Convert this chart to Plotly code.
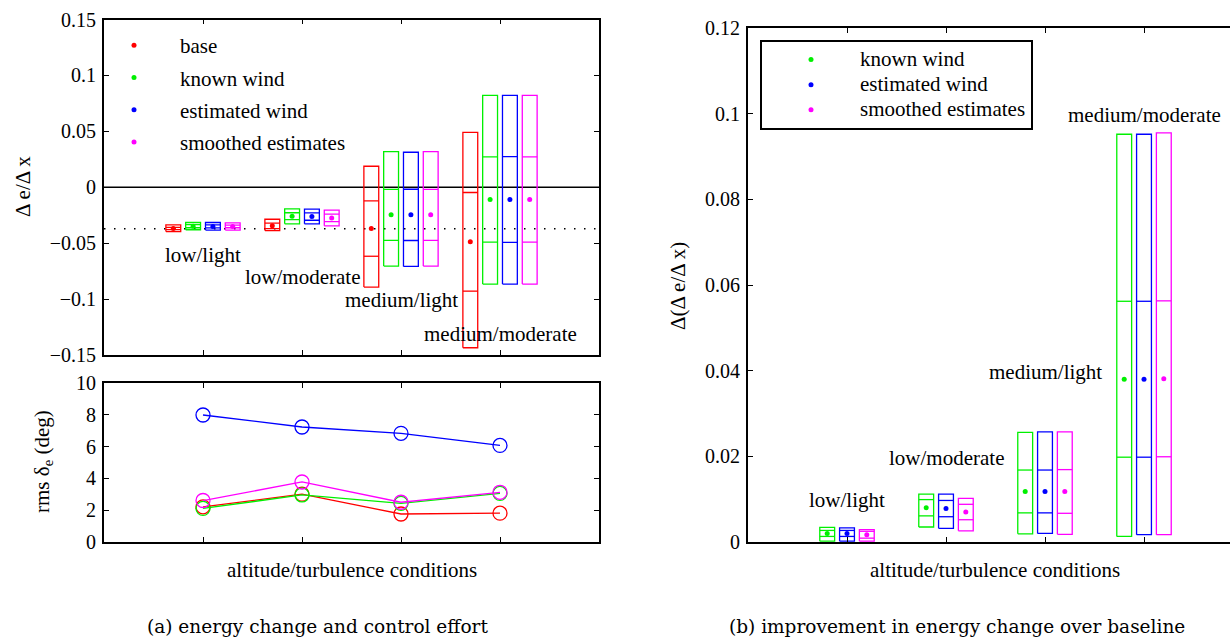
import plotly.graph_objects as go

# ---------------- data ----------------
cat_labels = ["low/light", "low/moderate", "medium/light", "medium/moderate"]
cat_pos = [1, 2, 3, 4]

# panel (a): Δe/Δx  (box = min..max, inner lines = mean ± std, dot = mean)
base_min = [-0.0396, -0.0387, -0.0893, -0.1435]
base_max = [-0.0336, -0.0286, 0.0188, 0.0491]
base_mean = [-0.0369, -0.0345, -0.0369, -0.0488]
base_std = [0.0010, 0.0025, 0.0248, 0.0441]

known_min = [-0.0380, -0.0327, -0.0705, -0.0866]
known_max = [-0.0315, -0.0193, 0.0318, 0.0821]
known_mean = [-0.0348, -0.0259, -0.0247, -0.0110]
known_std = [0.0014, 0.0031, 0.0228, 0.0381]

est_min = [-0.0383, -0.0327, -0.0708, -0.0866]
est_max = [-0.0315, -0.0196, 0.0313, 0.0821]
est_mean = [-0.0350, -0.0262, -0.0247, -0.0110]
est_std = [0.0014, 0.0033, 0.0229, 0.0383]

smooth_min = [-0.0383, -0.0345, -0.0705, -0.0866]
smooth_max = [-0.0318, -0.0205, 0.0318, 0.0821]
smooth_mean = [-0.0350, -0.0274, -0.0247, -0.0110]
smooth_std = [0.0012, 0.0033, 0.0228, 0.0381]

baseline_ref = -0.037

# panel (a) lower: rms elevator deflection (deg)
rms_base = [2.2, 3.0, 1.75, 1.8]
rms_known = [2.1, 2.95, 2.42, 3.05]
rms_est = [8.0, 7.24, 6.84, 6.08]
rms_smooth = [2.6, 3.77, 2.49, 3.12]

# panel (b): improvement Δ(Δe/Δx)
imp_known_min = [0.0002, 0.0035, 0.0019, 0.0013]
imp_known_max = [0.0034, 0.0112, 0.0256, 0.0952]
imp_known_mean = [0.0020, 0.0080, 0.0118, 0.0380]
imp_known_std = [0.0007, 0.0019, 0.0050, 0.0182]

imp_est_min = [0.0002, 0.0032, 0.0020, 0.0017]
imp_est_max = [0.0033, 0.0112, 0.0257, 0.0952]
imp_est_mean = [0.0020, 0.0078, 0.0118, 0.0380]
imp_est_std = [0.0007, 0.0019, 0.0050, 0.0182]

imp_smooth_min = [0.0002, 0.0026, 0.0018, 0.0017]
imp_smooth_max = [0.0029, 0.0102, 0.0257, 0.0955]
imp_smooth_mean = [0.0017, 0.0070, 0.0118, 0.0381]
imp_smooth_std = [0.0008, 0.0018, 0.0051, 0.0182]

a_names = ["base", "known wind", "estimated wind", "smoothed estimates"]
b_names = ["known wind", "estimated wind", "smoothed estimates"]
RED, GREEN, BLUE, MAGENTA = "#ff0000", "#00f000", "#0000ff", "#ff00ff"

FONT = "Liberation Serif, Times New Roman, serif"
W, H = 1230, 640

fig = go.Figure()


def add_boxes(name, label, color, offset, mins, maxs, means, stds, xa, ya, legend, width=0.15):
    xs, ys = [], []
    for c, lo, hi, m, s in zip(cat_pos, mins, maxs, means, stds):
        x0, x1 = c + offset - width / 2, c + offset + width / 2
        xs += [x0, x1, x1, x0, x0, None, x0, x1, None, x0, x1, None]
        ys += [lo, lo, hi, hi, lo, None, m + s, m + s, None, m - s, m - s, None]
    fig.add_trace(go.Scatter(x=xs, y=ys, mode="lines", line=dict(color=color, width=1.3),
                             xaxis=xa, yaxis=ya, showlegend=False, hoverinfo="skip",
                             legendgroup=legend + name))
    fig.add_trace(go.Scatter(x=[c + offset for c in cat_pos], y=means, mode="markers",
                             marker=dict(color=color, size=5), name=label,
                             xaxis=xa, yaxis=ya, legend=legend, legendgroup=legend + name))


a_sets = [
    (base_min, base_max, base_mean, base_std),
    (known_min, known_max, known_mean, known_std),
    (est_min, est_max, est_mean, est_std),
    (smooth_min, smooth_max, smooth_mean, smooth_std),
]
a_colors = [RED, GREEN, BLUE, MAGENTA]
a_offsets = [-0.3, -0.1, 0.1, 0.3]
for nm, col, off, d in zip(a_names, a_colors, a_offsets, a_sets):
    add_boxes(nm, nm, col, off, *d, "x", "y", "legend")

rms_sets = [rms_base, rms_known, rms_est, rms_smooth]
for nm, col, vals in zip(a_names, a_colors, rms_sets):
    fig.add_trace(go.Scatter(x=cat_pos, y=vals, mode="lines+markers",
                             line=dict(color=col, width=1.3),
                             marker=dict(symbol="circle-open", size=14, color=col, line=dict(width=1.3)),
                             xaxis="x2", yaxis="y2", showlegend=False, hoverinfo="skip"))

b_sets = [
    (imp_known_min, imp_known_max, imp_known_mean, imp_known_std),
    (imp_est_min, imp_est_max, imp_est_mean, imp_est_std),
    (imp_smooth_min, imp_smooth_max, imp_smooth_mean, imp_smooth_std),
]
b_colors = [GREEN, BLUE, MAGENTA]
b_offsets = [-0.2, 0.0, 0.2]
for nm, col, off, d in zip(b_names, b_colors, b_offsets, b_sets):
    add_boxes(nm, "<span style='font-size:21px'>" + nm + "</span>", col, off, *d, "x3", "y3", "legend2")

# ---------------- axes ----------------
axis_common = dict(showline=True, linecolor="black", linewidth=1.8, ticks="inside",
                   ticklen=5, tickwidth=1, tickcolor="black", showgrid=False, zeroline=False,
                   automargin=False, ticklabelstandoff=2,
                   tickfont=dict(family=FONT, size=20, color="black"))

xl_dom = [104 / W, 599 / W]
fig.update_layout(
    xaxis=dict(**axis_common, domain=xl_dom, range=[0, 5], tickvals=cat_pos, showticklabels=False,
               mirror="ticks", anchor="y"),
    yaxis=dict(**axis_common, domain=[1 - 355 / H, 1 - 19.5 / H], range=[-0.15, 0.15],
               tickvals=[-0.15, -0.1, -0.05, 0, 0.05, 0.1, 0.15], mirror="ticks", anchor="x"),
    xaxis2=dict(**axis_common, domain=xl_dom, range=[0, 5], tickvals=cat_pos, showticklabels=False,
                mirror="ticks", anchor="y2"),
    yaxis2=dict(**axis_common, domain=[1 - 541.7 / H, 1 - 383.3 / H], range=[0, 10],
                tickvals=[0, 2, 4, 6, 8, 10], mirror="ticks", anchor="x2"),
    xaxis3=dict(**axis_common, domain=[748 / W, 1.0], range=[0, (W - 748) / 99.0], tickvals=cat_pos,
                showticklabels=False, mirror="ticks", anchor="y3"),
    yaxis3=dict(**axis_common, domain=[1 - 542 / H, 1 - 28 / H], range=[0, 0.12],
                tickvals=[0, 0.02, 0.04, 0.06, 0.08, 0.1, 0.12], mirror=False, anchor="x3"),
)

# reference lines in panel (a)
fig.add_shape(type="line", xref="x domain", yref="y", x0=0, x1=1, y0=0, y1=0,
              line=dict(color="black", width=1.3), layer="below")
fig.add_shape(type="line", xref="x domain", yref="y", x0=0, x1=1, y0=baseline_ref, y1=baseline_ref,
              line=dict(color="black", width=1.5, dash="1.5px,8.5px"), layer="below")

# condition labels
a_label_y = [-0.061, -0.0806, -0.101, -0.1315]
b_label_y = [0.0099, 0.0197, 0.0398, 0.0997]
for c, lab, ya_, yb_ in zip(cat_pos, cat_labels, a_label_y, b_label_y):
    fig.add_annotation(x=c, y=ya_, xref="x", yref="y", text=lab, showarrow=False,
                       font=dict(family=FONT, size=21, color="black"))
    fig.add_annotation(x=c, y=yb_, xref="x3", yref="y3", text=lab, showarrow=False,
                       font=dict(family=FONT, size=21, color="black"))


# axis titles and captions
def ptext(x, y, text, size=21, angle=0, family=FONT):
    fig.add_annotation(x=x / W, y=1 - y / H, xref="paper", yref="paper", text=text, showarrow=False,
                       textangle=angle, xanchor="center", yanchor="middle",
                       font=dict(family=family, size=size, color="black"))


ptext(23, 187, "Δ e/Δ x", angle=-90)
ptext(43, 462, "rms δ<sub>e</sub> (deg)", angle=-90)
ptext(678, 286, "Δ(Δ e/Δ x)", angle=-90)
ptext(352, 570, "altitude/turbulence conditions")
ptext(995, 570, "altitude/turbulence conditions")
ptext(317, 626, "(a) energy change and control effort", size=18.5, family="DejaVu Serif")
ptext(957, 626, "(b) improvement in energy change over baseline", size=18.5, family="DejaVu Serif")

fig.update_layout(
    width=W, height=H, margin=dict(l=0, r=0, t=0, b=0, autoexpand=False),
    paper_bgcolor="white", plot_bgcolor="white",
    font=dict(family=FONT, size=21, color="black"),
    legend=dict(x=88 / W, y=1 - 25 / H, xanchor="left", yanchor="top", bgcolor="rgba(0,0,0,0)",
                borderwidth=0, itemwidth=82, tracegroupgap=2,
                font=dict(family=FONT, size=21, color="black")),
    legend2=dict(x=760 / W, y=1 - 40 / H, xanchor="left", yanchor="top", bgcolor="white",
                 bordercolor="black", borderwidth=2, itemwidth=88, tracegroupgap=0,
                 font=dict(family=FONT, size=17, color="black")),
    showlegend=True,
)

fig.write_html("out.html", config={"displayModeBar": False},
               post_script="document.body.style.margin='0';document.body.style.overflow='hidden';")
